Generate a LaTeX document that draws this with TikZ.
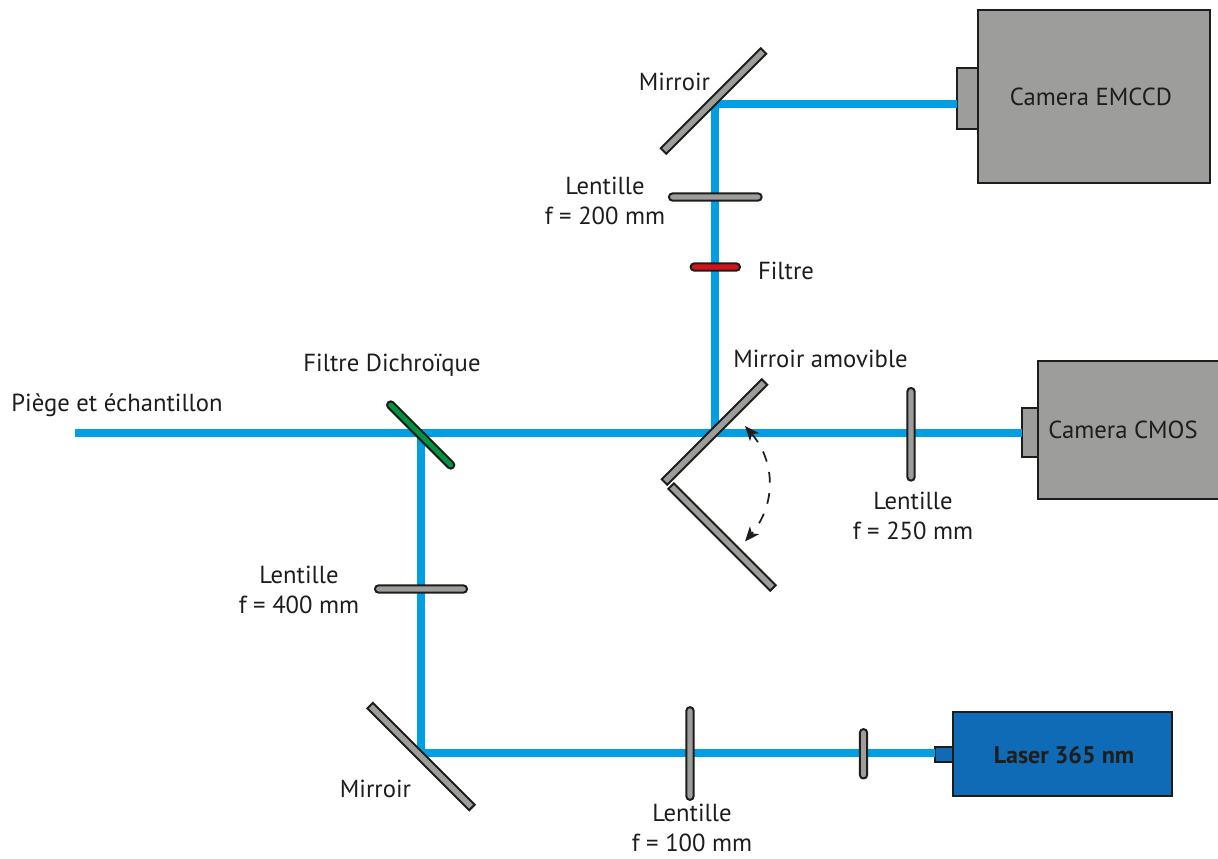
\documentclass[tikz,border=0pt]{standalone}
\usepackage{fontspec}
\setmainfont{PT Sans}
\usetikzlibrary{arrows.meta}
\definecolor{beamc}{HTML}{009FE3}
\definecolor{optic}{HTML}{9D9D9C}
\definecolor{laserc}{HTML}{0F6BB5}
\definecolor{greenf}{HTML}{00963F}
\definecolor{redf}{HTML}{D2131C}
\definecolor{inkc}{HTML}{1D1D1B}
\tikzset{
  x=0.75pt,y=-0.75pt,
  beam/.style={draw=beamc,line width=6pt},
  flat/.style={draw=inkc,fill=optic,line width=1.5pt,inner sep=0pt,minimum height=5.8pt},
  lens/.style={draw=inkc,fill=optic,line width=1.5pt,inner sep=0pt,minimum height=5.4pt,rounded corners=2.6pt},
  unit/.style={draw=inkc,fill=optic,line width=1.5pt,inner sep=0pt,outer sep=0pt,anchor=north west},
  lbl/.style={inner sep=0pt,font=\fontsize{18.5}{23}\selectfont,text=inkc,align=center},
  swing/.style={draw=inkc,line width=1.3pt,dash pattern=on 8pt off 8pt,{Stealth[length=11pt,width=9pt,inset=3pt]}-{Stealth[length=11pt,width=9pt,inset=3pt]}}
}
\begin{document}
\begin{tikzpicture}
\useasboundingbox (0,0) rectangle (1218,858);
% beam way points
\coordinate (src) at (75,433);
\coordinate (dich) at (421,433);
\coordinate (flip) at (715,433);
\coordinate (cornerT) at (715,103.5);
\coordinate (cornerB) at (421,753);
% units
\node[unit,minimum width=174pt,minimum height=130pt] (emccd) at (978,10) {};
\node[unit,minimum width=15.75pt,minimum height=45.75pt] (emccdport) at (957,68) {};
\node[unit,minimum width=150pt,minimum height=103.5pt] (cmos) at (1038,361) {};
\node[unit,minimum width=12pt,minimum height=36.75pt] (cmosport) at (1022,408) {};
\node[unit,fill=laserc,minimum width=164.25pt,minimum height=63pt] (laser) at (953,712) {};
\node[unit,fill=laserc,minimum width=13.5pt,minimum height=11.25pt] (laserport) at (935,747) {};
% beams
\draw[beam] (src) -- (dich) -- (flip) -- (flip -| cmosport.west);
\draw[beam] (flip) -- (cornerT) -- (emccdport.west |- cornerT);
\draw[beam] (dich) -- (cornerB) -- (laserport.west |- cornerB);
% optics
\node[flat,minimum width=106pt,rotate=45] (mirT) at (713.5,101) {};
\node[flat,minimum width=106pt,rotate=45] (mirF) at (714.5,432) {};
\node[flat,minimum width=108pt,rotate=-45] (mirF2) at (722,537) {};
\node[flat,minimum width=108pt,rotate=-45] (mirB) at (421,756.5) {};
\node[lens,fill=greenf,minimum width=69pt,rotate=-45] (dichf) at (420.7,435) {};
\node[lens,minimum width=69.5pt] (l200) at (715.3,197) {};
\node[lens,fill=redf,minimum width=37pt] (filt) at (715.3,267) {};
\node[lens,minimum width=69.5pt,rotate=90] (l250) at (911,434.3) {};
\node[lens,minimum width=69pt] (l400) at (421,589) {};
\node[lens,minimum width=69.5pt,rotate=90] (l100) at (690,753.5) {};
\node[lens,minimum width=37pt,rotate=90] (l50) at (863.5,753.8) {};
% swing arrow
\coordinate (swA) at (745,426);
\coordinate (swB) at (745,541.5);
\draw[swing] (swA) .. controls (776,462) and (776,505) .. (swB);
% labels
\node[lbl] (t1) at (117,405) {Piège et échantillon};
\node[lbl] (t2) at (392,365) {Filtre Dichroïque};
\node[lbl] (t3) at (674.5,82) {Mirroir};
\node[lbl] (t4) at (605,201) {Lentille\\f = 200 mm};
\node[lbl] (t5) at (786,271) {Filtre};
\node[lbl] (t6) at (820.5,359) {Mirroir amovible};
\node[lbl] (t7) at (913,516) {Lentille\\f = 250 mm};
\node[lbl] (t8) at (299,590) {Lentille\\f = 400 mm};
\node[lbl] (t9) at (375.5,789) {Mirroir};
\node[lbl] (t10) at (692,828) {Lentille\\f = 100 mm};
\node[lbl] (t11) at (1091,97) {Camera EMCCD};
\node[lbl] (t12) at (1123,430) {Camera CMOS};
\node[lbl,font=\fontsize{18}{23}\selectfont\bfseries] (t13) at (1064,755) {Laser 365 nm};
\end{tikzpicture}
\end{document}
